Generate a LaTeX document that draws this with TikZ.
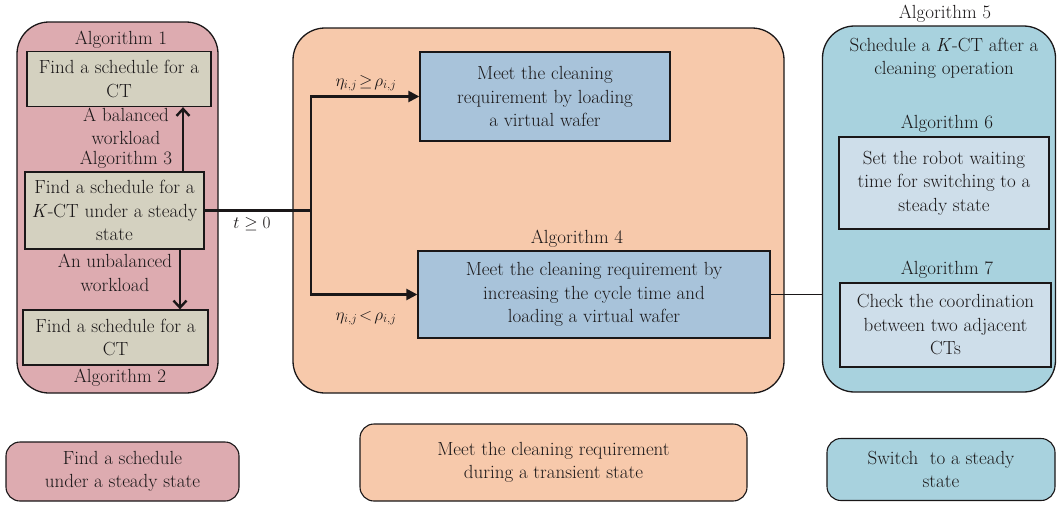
\documentclass[tikz,border=0pt]{standalone}
\usepackage{fontspec}
\usetikzlibrary{arrows.meta,calc}
\definecolor{pinkbg}{HTML}{DDABB0}
\definecolor{orangebg}{HTML}{F7C9AB}
\definecolor{bluebg}{HTML}{A8D2DE}
\definecolor{beige}{HTML}{D4D1C0}
\definecolor{midblue}{HTML}{A8C3DA}
\definecolor{lightblue}{HTML}{CEDEEA}
\definecolor{ink}{HTML}{1A1718}
\tikzset{
  every node/.style={font=\rmfamily\fontsize{19}{23.5}\selectfont, text=ink, inner sep=0pt},
  group/.style={draw=ink, line width=1.3pt, rounded corners=32pt},
  legend/.style={draw=ink, line width=1.1pt, rounded corners=14pt, align=center},
  inbox/.style={draw=ink, line width=1.3pt, align=center},
  lbl/.style={align=center},
  small/.style={font=\rmfamily\fontsize{17}{19}\selectfont},
  barb/.style={draw=ink, line width=2.4pt, -{Straight Barb[length=7pt,width=13pt,line width=2.4pt]}},
  tri/.style={draw=ink, line width=2.4pt, -{Triangle[length=11pt,width=11pt]}},
  thin/.style={draw=ink, line width=0.9pt}
}
\begin{document}
\begin{tikzpicture}[x=1pt,y=-1pt]
\useasboundingbox (0,0) rectangle (1057,504);
% group boxes
\node[group, fill=pinkbg, minimum width=201pt, minimum height=371pt] (gleft) at (117.5,207.5) {};
\node[group, fill=orangebg, minimum width=491pt, minimum height=365pt] (gmid) at (538.5,210.5) {};
\node[group, fill=bluebg, minimum width=233pt, minimum height=366pt] (gright) at (939,209) {};
% left column
\node[lbl] (alg1) at (121,40) {Algorithm 1};
\node[inbox, fill=beige, minimum width=184pt, minimum height=55pt] (b1) at (119,79) {Find a schedule for a\\CT};
\node[lbl] (bal) at (126,126.5) {A balanced\\workload};
\node[lbl] (alg3) at (126,159.5) {Algorithm 3};
\node[inbox, fill=beige, minimum width=179pt, minimum height=77pt] (b3) at (114.5,210.5) {Find a schedule for a\\\textit{K}-CT under a steady\\state};
\node[lbl] (unbal) at (115,273) {An unbalanced\\workload};
\node[inbox, fill=beige, minimum width=185pt, minimum height=55pt] (b2) at (115.5,337.5) {Find a schedule for a\\CT};
\node[lbl] (alg2) at (120,378) {Algorithm 2};
\draw[barb] ([xshift=68.5pt]b3.north) -- ([xshift=68.5pt]b3.north |- b1.south);
\draw[barb] ([xshift=65.5pt]b3.south) -- ([xshift=65.5pt]b3.south |- b2.north);
% middle
\node[inbox, fill=midblue, minimum width=250pt, minimum height=89pt] (bA) at (545,96.5) {Meet the cleaning\\requirement by loading\\a virtual wafer};
\node[lbl] (alg4) at (577,239) {Algorithm 4};
\node[inbox, fill=midblue, minimum width=352pt, minimum height=87pt] (b4) at (594,294.5) {Meet the cleaning requirement by\\increasing the cycle time and\\loading a virtual wafer};
\coordinate (junc) at (311,210.5);
\draw[draw=ink, line width=2.4pt] (b3.east) -- (junc);
\draw[tri] (junc) |- (bA.west);
\draw[tri] (junc) |- (b4.west);
\node[small] (tlab) at (252,224) {$t\geq 0$};
\node[small] (eta1) at (366,83) {$\eta_{i,j}\!\geq\!\rho_{i,j}$};
\node[small] (eta2) at (366,318) {$\eta_{i,j}\!<\!\rho_{i,j}$};
\draw[thin] (b4.east) -- (b4.east -| gright.west);
% right
\node[lbl] (alg5) at (945,14) {Algorithm 5};
\node[lbl] (sched) at (944,58.5) {Schedule a \textit{K}-CT after a\\cleaning operation};
\node[lbl] (alg6) at (947,124) {Algorithm 6};
\node[inbox, fill=lightblue, minimum width=210pt, minimum height=92pt] (b6) at (944,183) {Set the robot waiting\\time for switching to a\\steady state};
\node[lbl] (alg7) at (947,270) {Algorithm 7};
\node[inbox, fill=lightblue, minimum width=211pt, minimum height=84pt] (b7) at (945.5,325) {Check the coordination\\between two adjacent\\CTs};
% legend
\node[legend, fill=pinkbg, minimum width=233pt, minimum height=59pt] (l1) at (122.5,471.5) {Find a schedule\\under a steady state};
\node[legend, fill=orangebg, minimum width=387pt, minimum height=77pt] (l2) at (553.5,462.5) {Meet the cleaning requirement\\during a transient state};
\node[legend, fill=bluebg, minimum width=228pt, minimum height=62pt] (l3) at (941,469.5) {Switch\ \ to a steady\\state};
\end{tikzpicture}
\end{document}
